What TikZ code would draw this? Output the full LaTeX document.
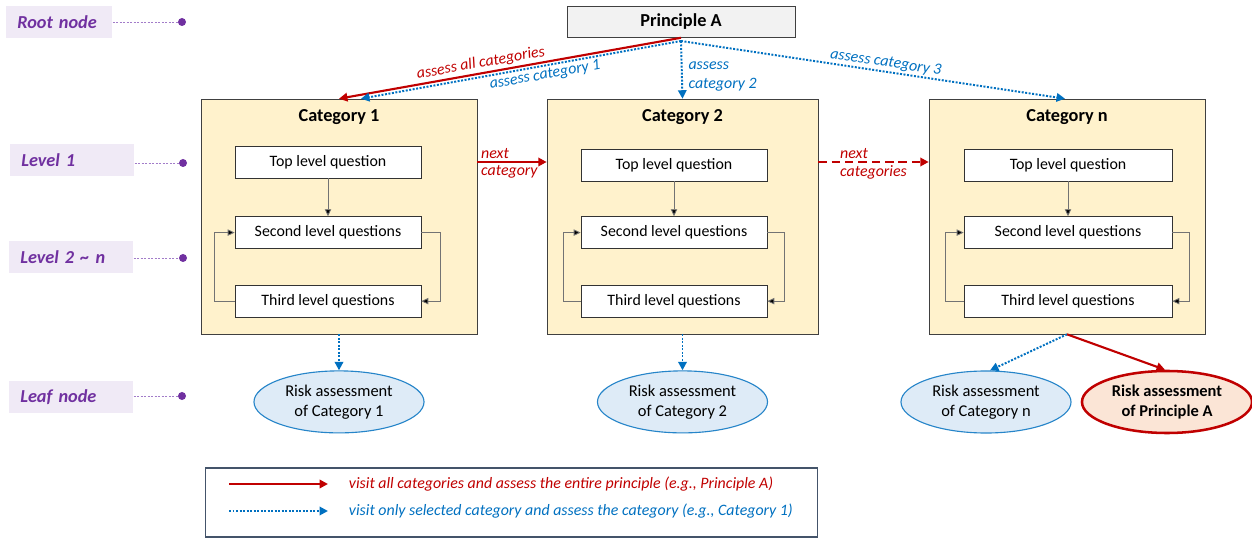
\documentclass[tikz,border=0pt]{standalone}
\usepackage{fontspec}
\setmainfont{Carlito}
\usepackage{xcolor}
\usetikzlibrary{arrows.meta, positioning, shapes.geometric}

\definecolor{catfill}{HTML}{FFF2CC}
\definecolor{allred}{HTML}{C00000}
\definecolor{selblue}{HTML}{0070C0}
\definecolor{leafblue}{HTML}{DEEBF7}
\definecolor{leafpink}{HTML}{FBE5D6}
\definecolor{lvltext}{HTML}{7030A0}
\definecolor{lvlfill}{HTML}{F0EAF6}
\definecolor{lvlline}{HTML}{A27CC9}
\definecolor{rootfill}{HTML}{F2F2F2}
\definecolor{legendline}{HTML}{44546A}

\begin{document}
\begin{tikzpicture}[x=0.025cm, y=-0.025cm, node distance=1cm]
            \tikzset{
                level_label/.style={fill=lvlfill, text=lvltext, anchor=west, minimum height=0.8cm, inner xsep=0.275cm, align=left, font=\bfseries\itshape\fontsize{13}{15}\selectfont},
                level_dot/.style={circle, fill=lvltext, inner sep=0pt, minimum size=0.2cm},
                level_link/.style={draw=lvlline, thin, dash pattern=on 1.5pt off 1pt},
                root_box/.style={draw=black!75, fill=rootfill, minimum width=5.7cm, minimum height=0.775cm, font=\bfseries\fontsize{13}{15}\selectfont},
                cat_box/.style={draw=black!75, fill=catfill, minimum width=6.9cm, minimum height=5.875cm},
                cat_title/.style={font=\bfseries\fontsize{13}{15}\selectfont},
                q_box/.style={draw=black!80, fill=white, minimum width=4.65cm, minimum height=0.8cm, font=\fontsize{11.3}{13}\selectfont},
                q_link/.style={draw=black!55, line width=0.6pt, -{Triangle[length=5pt, width=4.5pt, fill=black]}},
                leaf_cat/.style={ellipse, draw=selblue!85, fill=leafblue, line width=0.8pt, inner sep=0pt, minimum width=4.25cm, minimum height=1.55cm, align=center, font=\fontsize{11.7}{14}\selectfont},
                leaf_all/.style={leaf_cat, draw=allred, fill=leafpink, line width=1.8pt, font=\bfseries\fontsize{11.7}{14}\selectfont},
                all_arrow/.style={draw=allred, line width=1.5pt, -{Triangle[length=6pt, width=6pt]}},
                sel_arrow/.style={draw=selblue, line width=1.4pt, dash pattern=on 1.4pt off 1.1pt, -{Triangle[length=6pt, width=6pt]}},
                arrow_text/.style={font=\itshape\fontsize{11.3}{13.5}\selectfont},
                legend_box/.style={draw=legendline, line width=0.8pt, minimum width=15.275cm, minimum height=1.725cm},
                legend_text/.style={anchor=west, font=\itshape\fontsize{11.3}{13}\selectfont}
            }
            \useasboundingbox (0,0) rectangle (1252,538);

            % levels on the left
            \node[level_label, minimum width=2.65cm, text width=2.1cm] (rootlbl) at (6,22) {Root node};
            \node[level_label, minimum width=3.1cm, text width=2.55cm] (lvl1lbl) at (10,160) {Level 1};
            \node[level_label, minimum width=3.1cm, text width=2.55cm] (lvlnlbl) at (9,257) {Level 2 \textasciitilde{} n};
            \node[level_label, minimum width=3.1cm, text width=2.55cm] (leaflbl) at (9,397) {Leaf node};
            \node[level_dot] (rootdot) at (182,22) {};
            \node[level_dot] (lvl1dot) at (183,163) {};
            \node[level_dot] (lvlndot) at (183,258) {};
            \node[level_dot] (leafdot) at (182,396) {};
            \draw[level_link] (rootlbl.east) -- (rootdot);
            \draw[level_link] (lvl1lbl.east |- lvl1dot) -- (lvl1dot);
            \draw[level_link] (lvlnlbl.east |- lvlndot) -- (lvlndot);
            \draw[level_link] (leaflbl.east |- leafdot) -- (leafdot);

            % root
            \node[root_box] (pa) at (681,22) {Principle A};

            % categories
            \node[cat_box] (cat1) at (339,216.5) {};
            \node[cat_box, minimum width=6.775cm] (cat2) at (682.5,216.5) {};
            \node[cat_box] (catn) at (1067,216.5) {};
            \node[cat_title, below=0.15cm of cat1.north] (cat1title) {Category 1};
            \node[cat_title, below=0.15cm of cat2.north] (cat2title) {Category 2};
            \node[cat_title, below=0.15cm of catn.north] (catntitle) {Category n};

            \node[q_box] (top1) at (328,162) {Top level question};
            \node[q_box, below=0.95cm of top1] (second1) {Second level questions};
            \node[q_box, below=0.9cm of second1] (third1) {Third level questions};
            \node[q_box] (top2) at (674,165) {Top level question};
            \node[q_box, below=0.875cm of top2] (second2) {Second level questions};
            \node[q_box, below=0.9cm of second2] (third2) {Third level questions};
            \node[q_box, minimum width=5.2cm] (topn) at (1068,165) {Top level question};
            \node[q_box, minimum width=5.2cm, below=0.875cm of topn] (secondn) {Second level questions};
            \node[q_box, minimum width=5.2cm, below=0.9cm of secondn] (thirdn) {Third level questions};

            \draw[q_link] (top1) -- (second1);
            \draw[q_link] (third1.west) -- ++(-20,0) |- (second1.west);
            \draw[q_link] (second1.east) -- ++(19,0) |- (third1.east);
            \draw[q_link] (top2) -- (second2);
            \draw[q_link] (third2.west) -- ++(-17,0) |- (second2.west);
            \draw[q_link] (second2.east) -- ++(17,0) |- (third2.east);
            \draw[q_link] (topn) -- (secondn);
            \draw[q_link] (thirdn.west) -- ++(-18,0) |- (secondn.west);
            \draw[q_link] (secondn.east) -- ++(17,0) |- (thirdn.east);

            % root to categories
            \draw[all_arrow] (pa.south) -- node[arrow_text, text=allred, above, sloped, pos=0.58, inner sep=1.5pt] {assess all categories} (cat1.north);
            \draw[sel_arrow] ([yshift=-0.08cm]pa.south) -- node[arrow_text, text=selblue, below, sloped, pos=0.43, inner sep=1.5pt] {assess category 1} ([xshift=0.55cm]cat1.north);
            \draw[sel_arrow] ([yshift=-0.08cm]pa.south) -- node[arrow_text, text=selblue, right, align=left, pos=0.62, inner sep=4pt] {assess\\category 2} (cat2.north);
            \draw[sel_arrow] ([yshift=-0.08cm]pa.south) -- node[arrow_text, text=selblue, above, sloped, pos=0.53, inner sep=1pt] {assess category 3} ([xshift=-0.05cm]catn.north);

            % between categories
            \draw[all_arrow] (cat1.east |- top1) -- (cat2.west |- top1)
                node[arrow_text, text=allred, pos=0, above right, inner sep=2pt] {next}
                node[arrow_text, text=allred, pos=0, below right, inner sep=2pt] {category};
            \draw[all_arrow, dash pattern=on 6pt off 3.5pt] (cat2.east |- top1) -- (catn.west |- top1)
                node[arrow_text, text=allred, pos=0, above right, inner sep=2pt, xshift=0.45cm] {next}
                node[arrow_text, text=allred, pos=0, below right, inner sep=2pt, xshift=0.45cm] {categories};

            % leaves
            \node[leaf_cat, below=0.9cm of cat1] (leaf1) {Risk assessment\\of Category 1};
            \node[leaf_cat, below=0.9cm of cat2] (leaf2) {Risk assessment\\of Category 2};
            \node[leaf_cat] (leafn) at (986,402) {Risk assessment\\of Category n};
            \node[leaf_all] (leafpa) at (1167,402) {Risk assessment\\of Principle A};
            \draw[sel_arrow] (cat1) -- (leaf1);
            \draw[sel_arrow] (cat2) -- (leaf2);
            \draw[sel_arrow] (catn.south) -- ([xshift=0.1cm]leafn.north);
            \draw[all_arrow] (catn.south) -- ([xshift=-0.05cm]leafpa.north);

            % legend
            \node[legend_box] (legend) at (511.5,502.5) {};
            \node[legend_text, text=allred] (alltext) at (344,484) {visit all categories and assess the entire principle (e.g., Principle A)};
            \node[legend_text, text=selblue] (seltext) at (344,511) {visit only selected category and assess the category (e.g., Category 1)};
            \coordinate (allstart) at (229,484);
            \coordinate (selstart) at (229,511);
            \draw[all_arrow] (allstart) -- ([xshift=-0.4cm]alltext.west);
            \draw[sel_arrow] (selstart) -- ([xshift=-0.4cm]seltext.west);
        \end{tikzpicture}
\end{document}
